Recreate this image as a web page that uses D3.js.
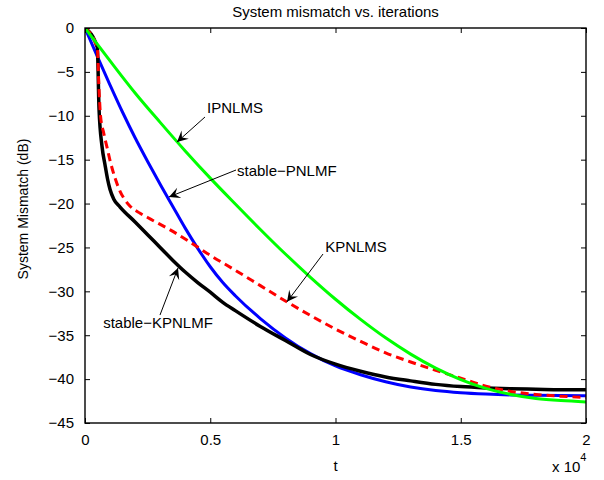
<!DOCTYPE html>
<html>
<head>
<meta charset="utf-8">
<script src="https://cdn.jsdelivr.net/npm/d3@7"></script>
<style>
  body { margin: 0; background: #fff; }
  text { font-family: "Liberation Sans", Arial, Helvetica, sans-serif; fill: #000; }
</style>
</head>
<body>
<div class="canvas"></div>
<script>
const dims = {width: 604, height: 480};
const margin = {left: 85, right: 18, top: 28, bottom: 57};

// iterations (t) and mismatch (dB)
const ipnlmsT = [0, 1000, 2000, 3000, 4000, 5000, 6000, 7000, 8000, 9000, 10000, 11000, 12000, 13000, 14000, 15000, 16000, 17000, 18000, 19000, 20000];
const ipnlmsDb = [0, -3.75, -7.4, -10.75, -14.0, -17.1, -20.05, -22.95, -25.75, -28.4, -30.9, -33.2, -35.3, -37.15, -38.75, -40.05, -41.05, -41.75, -42.2, -42.45, -42.6];

const pnlmfT = [0, 500, 1000, 1500, 2000, 2500, 3000, 3500, 4000, 4500, 5000, 5500, 6000, 7000, 8000, 9000, 10000, 11000, 12000, 13000, 14000, 15000, 16000, 17000, 18000, 20000];
const pnlmfDb = [0, -3.3, -6.5, -9.6, -12.5, -15.2, -17.8, -20.3, -22.8, -25.1, -27.2, -29.0, -30.5, -33.1, -35.3, -37.1, -38.5, -39.5, -40.3, -40.9, -41.3, -41.55, -41.7, -41.8, -41.85, -41.9];

const kpnlmsT = [0, 490, 560, 620, 750, 880, 1000, 1200, 1400, 1600, 1800, 2200, 2600, 3400, 4200, 5000, 6000, 7000, 8000, 9000, 10000, 11000, 12000, 13000, 14000, 15000, 16000, 17000, 18000, 19000, 20000];
const kpnlmsDb = [0, -2.3, -7.0, -10.0, -12.0, -13.6, -15.1, -17.1, -18.6, -19.6, -20.3, -21.1, -21.75, -23.0, -24.4, -25.9, -27.6, -29.35, -31.1, -32.75, -34.3, -35.7, -37.0, -38.05, -39.0, -39.9, -40.8, -41.4, -41.75, -41.95, -42.1];

const kpnlmfT = [0, 490, 560, 680, 800, 900, 1000, 1150, 1400, 2000, 2500, 3000, 3500, 4000, 4500, 5000, 5500, 6000, 7000, 8000, 9000, 10000, 11000, 12000, 13000, 14000, 15000, 16000, 17000, 18000, 19000, 20000];
const kpnlmfDb = [0, -2.2, -9.2, -13.5, -15.6, -17.2, -18.4, -19.5, -20.4, -22.1, -23.55, -25.0, -26.45, -27.8, -29.0, -30.1, -31.25, -32.2, -34.0, -35.6, -37.2, -38.3, -39.1, -39.75, -40.2, -40.6, -40.85, -41.0, -41.1, -41.15, -41.2, -41.2];

const xTicks = [0, 5000, 10000, 15000, 20000];
const xTickLabels = ['0', '0.5', '1', '1.5', '2'];
const yTicks = [0, -5, -10, -15, -20, -25, -30, -35, -40, -45];

// annotation text and arrows, in data units
const notes = [
  {label: 'IPNLMS', tx: 5988, ty: -9.1, anchor: 'middle', x0: 4790, y0: -10.14, x1: 3673, y1: -12.99},
  {label: 'stable\u2212PNLMF', tx: 6068, ty: -16.3, anchor: 'start', x0: 6028, y0: -16.18, x1: 3353, y1: -19.25},
  {label: 'KPNLMS', tx: 10818, ty: -24.95, anchor: 'middle', x0: 9501, y0: -25.75, x1: 8064, y1: -31.2},
  {label: 'stable\u2212KPNLMF', tx: 2914, ty: -33.6, anchor: 'middle', x0: 2994, y0: -32.7, x1: 3713, y1: -27.34}
];

const series = [
  {t: pnlmfT, db: pnlmfDb, color: '#0000ff', width: 3, dash: null},
  {t: kpnlmfT, db: kpnlmfDb, color: '#000000', width: 3.5, dash: null},
  {t: kpnlmsT, db: kpnlmsDb, color: '#ff0000', width: 3, dash: '8,5'},
  {t: ipnlmsT, db: ipnlmsDb, color: '#00ff00', width: 3, dash: null}
];

const w = dims.width - margin.left - margin.right;
const h = dims.height - margin.top - margin.bottom;

const x = d3.scaleLinear().domain([0, 20000]).range([0, w]);
const y = d3.scaleLinear().domain([-45, 0]).range([h, 0]);

const svg = d3.select('.canvas')
  .append('svg')
  .attr('width', dims.width)
  .attr('height', dims.height);

const graph = svg.append('g')
  .attr('transform', `translate(${margin.left}, ${margin.top})`);

graph.append('defs').append('clipPath').attr('id', 'clip')
  .append('rect').attr('width', w).attr('height', h);

// curves
const line = d3.line()
  .x(d => x(d[0]))
  .y(d => y(d[1]))
  .curve(d3.curveMonotoneX);

graph.append('g').attr('clip-path', 'url(#clip)')
  .selectAll('path')
  .data(series)
  .enter()
  .append('path')
    .attr('fill', 'none')
    .attr('stroke', d => d.color)
    .attr('stroke-width', d => d.width)
    .attr('stroke-dasharray', d => d.dash)
    .attr('stroke-linejoin', 'round')
    .attr('d', d => line(d.t.map((t, i) => [t, d.db[i]])));

// axes, MATLAB style with inward ticks on all four sides
const tickLen = 5;
const fmtMinus = v => String(v).replace('-', '\u2212');

graph.append('g')
  .attr('transform', `translate(0, ${h})`)
  .call(d3.axisBottom(x).tickValues(xTicks).tickSize(-tickLen).tickPadding(11)
    .tickFormat((d, i) => xTickLabels[i]));
graph.append('g')
  .call(d3.axisTop(x).tickValues(xTicks).tickSize(-tickLen).tickFormat(''));
graph.append('g')
  .call(d3.axisLeft(y).tickValues(yTicks).tickSize(-tickLen).tickPadding(11)
    .tickFormat(fmtMinus));
graph.append('g')
  .attr('transform', `translate(${w}, 0)`)
  .call(d3.axisRight(y).tickValues(yTicks).tickSize(-tickLen).tickFormat(''));

graph.selectAll('.domain').remove();
graph.selectAll('.tick line').attr('stroke', '#000').attr('stroke-width', 1);
graph.selectAll('.tick text')
  .style('font-size', '15px')
  .attr('fill', '#000');

graph.append('rect')
  .attr('width', w)
  .attr('height', h)
  .attr('fill', 'none')
  .attr('stroke', '#000')
  .attr('stroke-width', 1.4);

// annotations
const notesG = graph.selectAll('.note')
  .data(notes)
  .enter()
  .append('g')
  .classed('note', true);

notesG.append('line')
  .attr('x1', d => x(d.x0)).attr('y1', d => y(d.y0))
  .attr('x2', d => x(d.x1)).attr('y2', d => y(d.y1))
  .attr('stroke', '#000')
  .attr('stroke-width', 1);

notesG.append('path')
  .attr('fill', '#000')
  .attr('d', d => {
    const px = x(d.x1), py = y(d.y1);
    const ang = Math.atan2(py - y(d.y0), px - x(d.x0));
    const L = 11, W = 5.5;
    const bx = px - L * Math.cos(ang), by = py - L * Math.sin(ang);
    const nx = -Math.sin(ang), ny = Math.cos(ang);
    const mx = px - 0.6 * L * Math.cos(ang), my = py - 0.6 * L * Math.sin(ang);
    return `M${px},${py}L${bx + nx * W},${by + ny * W}L${mx},${my}L${bx - nx * W},${by - ny * W}Z`;
  });

notesG.append('text')
  .attr('x', d => x(d.tx))
  .attr('y', d => y(d.ty))
  .attr('dy', '0.35em')
  .attr('text-anchor', d => d.anchor)
  .style('font-size', '15px')
  .text(d => d.label);

// titles
svg.append('text')
  .attr('x', margin.left + w / 2)
  .attr('y', 17)
  .attr('text-anchor', 'middle')
  .style('font-size', '15px')
  .text('System mismatch vs. iterations');

svg.append('text')
  .attr('x', margin.left + w / 2)
  .attr('y', 471)
  .attr('text-anchor', 'middle')
  .style('font-size', '15px')
  .text('t');

svg.append('text')
  .attr('transform', 'translate(28, 209) rotate(-90)')
  .attr('text-anchor', 'middle')
  .style('font-size', '14px')
  .text('System Mismatch (dB)');

const expo = svg.append('text')
  .attr('x', 552)
  .attr('y', 472)
  .style('font-size', '15px');
expo.append('tspan').text('x 10');
expo.append('tspan').attr('dy', -11).style('font-size', '11px').text('4');
</script>
</body>
</html>
